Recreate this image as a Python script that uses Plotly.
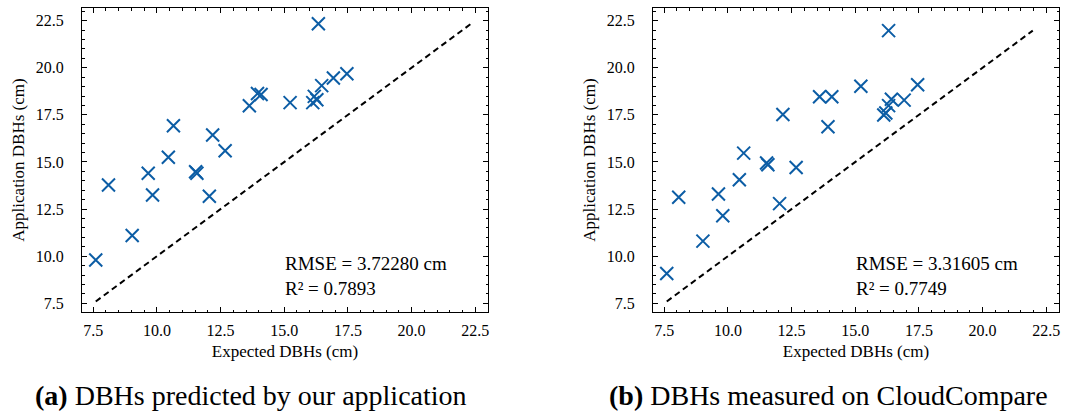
import plotly.graph_objects as go

# Panel (a): expected vs application-predicted DBHs
expected_a = [7.6, 8.1, 9.03, 9.66, 9.83, 10.45, 10.65, 11.52, 11.57, 12.06, 12.19, 12.68,
              13.63, 13.95, 14.09, 15.23, 16.12, 16.18, 16.28, 16.34, 16.47, 16.93, 17.46]
app_a = [9.8, 13.78, 11.1, 14.4, 13.25, 15.25, 16.92, 14.48, 14.4, 13.18, 16.43, 15.6,
         17.98, 18.63, 18.58, 18.15, 18.15, 18.48, 18.3, 22.33, 19.05, 19.46, 19.68]

# Panel (b): expected vs CloudCompare-measured DBHs
expected_b = [7.6, 8.07, 9.02, 9.63, 9.8, 10.45, 10.62, 11.52, 11.57, 12.03, 12.16, 12.68,
              13.6, 13.93, 14.08, 15.22, 16.12, 16.2, 16.31, 16.31, 16.42, 16.92, 17.45]
cc_b = [9.08, 13.13, 10.8, 13.3, 12.15, 14.06, 15.47, 14.95, 14.85, 12.79, 17.52, 14.71,
        18.46, 16.87, 18.46, 19.02, 17.49, 17.6, 21.97, 17.99, 18.33, 18.28, 19.1]

rmse_a, r2_a = "3.72280", "0.7893"
rmse_b, r2_b = "3.31605", "0.7749"

captions = ["<b>(a)</b> DBHs predicted by our application",
            "<b>(b)</b> DBHs measured on CloudCompare"]

tick_vals = [7.5, 10.0, 12.5, 15.0, 17.5, 20.0, 22.5]
tick_text = ["7.5", "10.0", "12.5", "15.0", "17.5", "20.0", "22.5"]

BLUE = "#0C5DA5"
SERIF = "Liberation Serif"
W, H = 1070, 414

fig = go.Figure()

panels = [
    (expected_a, app_a, rmse_a, r2_a, [82, 488], [7.06, 23.0], [7.04, 23.17]),
    (expected_b, cc_b, rmse_b, r2_b, [653, 1059], [7.06, 23.0], [7.04, 23.17]),
]

for i, (ex, ob, rmse, r2, px, xr, yr) in enumerate(panels):
    suffix = "" if i == 0 else "2"
    xa, ya = "x" + suffix, "y" + suffix
    lo = min(min(ex), min(ob))
    hi = max(max(ex), max(ob))
    fig.add_trace(go.Scatter(x=[lo, hi], y=[lo, hi], mode="lines",
                             line=dict(color="black", width=2, dash="6px,4px"),
                             xaxis=xa, yaxis=ya, showlegend=False, hoverinfo="skip"))
    fig.add_trace(go.Scatter(x=ex, y=ob, mode="markers",
                             marker=dict(symbol="x-thin", size=13, color=BLUE,
                                         line=dict(color=BLUE, width=2)),
                             xaxis=xa, yaxis=ya, showlegend=False))
    dom_x = [px[0] / W, px[1] / W]
    dom_y = [1 - 312 / H, 1 - 8 / H]
    common = dict(showline=True, linecolor="black", linewidth=1, mirror="allticks",
                  ticks="inside", ticklen=5, tickwidth=1, tickcolor="black",
                  showgrid=False, zeroline=False, tickvals=tick_vals, ticktext=tick_text,
                  tickfont=dict(family=SERIF, size=16, color="black"),
                  minor=dict(ticks="inside", ticklen=2.5, tickwidth=1, tickcolor="black",
                             dtick=0.5, showgrid=False),
                  automargin=False)
    fig.layout["xaxis" + suffix] = dict(common, domain=dom_x, range=xr,
                                        anchor=ya, ticklabelstandoff=4,
                                        title=dict(text="Expected DBHs (cm)", standoff=6,
                                                   font=dict(family=SERIF, size=17, color="black")))
    fig.layout["yaxis" + suffix] = dict(common, domain=dom_y, range=yr,
                                        anchor=xa, ticklabelstandoff=14,
                                        title=dict(text="Application DBHs (cm)", standoff=6,
                                                   font=dict(family=SERIF, size=17, color="black")))
    fig.add_annotation(xref=xa + " domain", yref=ya + " domain",
                       x=0.495, y=(312 - 276) / 304, xanchor="left", yanchor="middle",
                       align="left", showarrow=False,
                       text="RMSE = %s cm<br>R² = %s" % (rmse, r2),
                       font=dict(family=SERIF, size=19, color="black"))
    fig.add_annotation(xref="paper", yref="paper",
                       x=(251 if i == 0 else 828) / W, y=1 - 395 / H,
                       xanchor="center", yanchor="middle", showarrow=False,
                       text=captions[i],
                       font=dict(family=SERIF, size=28, color="black"))

fig.update_layout(width=W, height=H, margin=dict(l=0, r=0, t=0, b=0),
                  paper_bgcolor="white", plot_bgcolor="white",
                  font=dict(family=SERIF, color="black"))

fig.write_html("out.html")
